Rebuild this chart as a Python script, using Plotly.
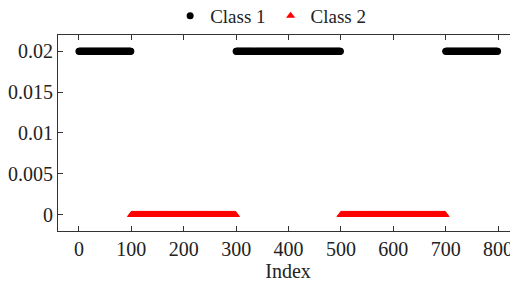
import plotly.graph_objects as go

# Segments of the index axis assigned to each class (start, end inclusive)
class1_segments = [(0, 99), (300, 499), (700, 799)]
class2_segments = [(100, 299), (500, 699)]
class1_value = 0.02
class2_value = 0.0
x_ticks = [0, 100, 200, 300, 400, 500, 600, 700, 800]
y_ticks = [0, 0.005, 0.01, 0.015, 0.02]
y_tick_labels = ["0", "0.005", "0.01", "0.015", "0.02"]

c1_x = [i for a, b in class1_segments for i in range(a, b + 1)]
c1_y = [class1_value] * len(c1_x)
c2_x = [i for a, b in class2_segments for i in range(a, b + 1)]
c2_y = [class2_value] * len(c2_x)

FONT = "Liberation Serif, Times New Roman, serif"

fig = go.Figure()
fig.add_trace(go.Scatter(x=c1_x, y=c1_y, mode="markers", name="Class 1",
                         marker=dict(symbol="circle", size=7, color="black")))
fig.add_trace(go.Scatter(x=c2_x, y=c2_y, mode="markers", name="Class 2",
                         marker=dict(symbol="triangle-up", size=8, color="red")))

axis_common = dict(showline=True, linecolor="#333", linewidth=1, mirror="ticks",
                   ticks="inside", ticklen=5, tickwidth=1, tickcolor="#333",
                   showgrid=False, zeroline=False, automargin=False,
                   tickfont=dict(family=FONT, size=20, color="#222"))

fig.update_layout(
    width=510, height=282,
    margin=dict(l=50, r=0, t=26, b=59),
    paper_bgcolor="white", plot_bgcolor="white",
    font=dict(family=FONT, size=20, color="#222"),
    showlegend=True,
    legend=dict(orientation="h", xref="container", yref="container",
                x=0.515, xanchor="center", y=0.972, yanchor="middle",
                font=dict(family=FONT, size=19, color="#222"),
                itemwidth=30, bgcolor="rgba(0,0,0,0)"),
    xaxis=dict(range=[-40, 838], tickvals=x_ticks,
               title=dict(text="Index", font=dict(family=FONT, size=20, color="#222"), standoff=2),
               **axis_common),
    yaxis=dict(range=[-0.002, 0.022], tickvals=y_ticks, ticktext=y_tick_labels,
               **axis_common),
)

fig.write_html("out.html")
